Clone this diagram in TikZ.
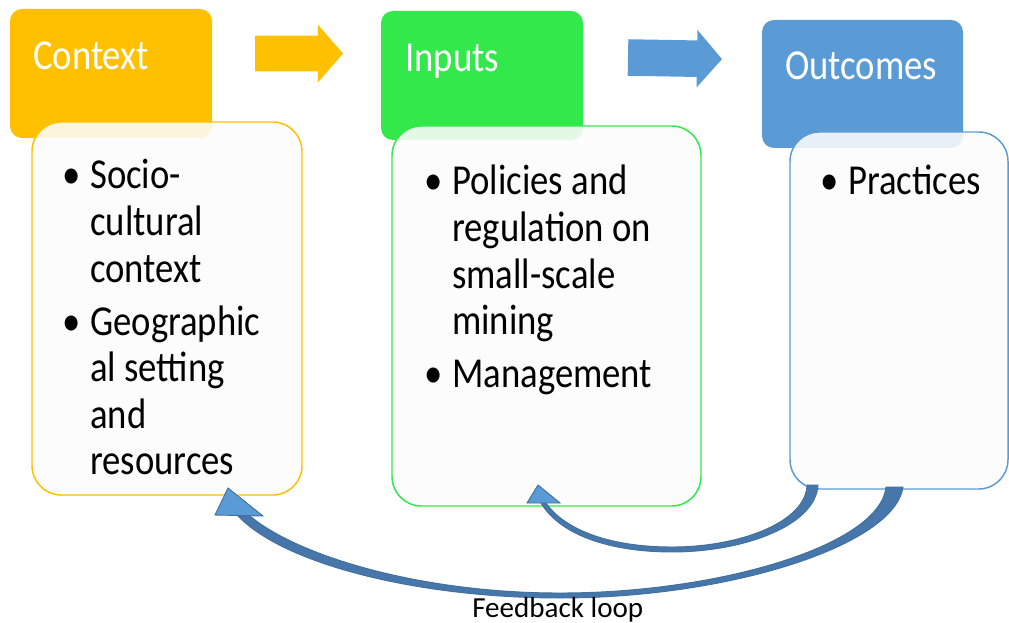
\documentclass[tikz,border=0pt]{standalone}
\usepackage{fontspec}
\setmainfont{Carlito}[FakeStretch=0.86]
\newfontfamily\loopfont{Carlito}
\usepackage{xcolor}
\usetikzlibrary{shapes.arrows}

\definecolor{ctxorange}{HTML}{FFC000}
\definecolor{inpgreen}{HTML}{33E84B}
\definecolor{outblue}{HTML}{5B9BD5}
\definecolor{loopblue}{HTML}{4777AA}
\definecolor{loopedge}{HTML}{41719C}

\tikzset{
  header/.style={fill=#1, rounded corners=9pt, inner sep=0pt, outer sep=0pt,
    anchor=north west, minimum width=151.5pt, minimum height=96.75pt},
  panel/.style={draw=#1, line width=1.1pt, fill=white!99!black, fill opacity=0.88,
    rounded corners=22pt, inner sep=0pt, outer sep=0pt, anchor=north west},
  title/.style={anchor=base west, inner sep=0pt, text=white,
    font=\fontsize{32}{35}\selectfont},
  items/.style={anchor=base west, inner sep=0pt,
    font=\fontsize{32}{34.9}\selectfont},
  flow/.style={single arrow, fill=#1, anchor=tail, inner xsep=0pt,
    outer sep=0pt, single arrow tip angle=98},
  loopband/.style={fill=loopblue, draw=loopedge, line width=0.7pt},
  loophead/.style={fill=outblue, draw=loopedge, line width=0.7pt, line join=miter},
}
\newcommand{\bul}{\makebox[21pt][l]{\textbullet}}

\begin{document}
\begin{tikzpicture}[x=0.75pt, y=-0.75pt]
    \useasboundingbox (0,0) rectangle (1009,623);

    % column heads
    \node[header=ctxorange] (ctxhead) at (10,9) {};
    \node[header=inpgreen] (inphead) at (381,11) {};
    \node[header=outblue, minimum width=150.75pt, minimum height=96pt] (outhead) at (762,20) {};

    % column panels
    \node[panel=ctxorange, minimum width=202.5pt, minimum height=279.75pt] (ctxbody) at (32,122) {};
    \node[panel=inpgreen, minimum width=231.75pt, minimum height=285pt] (inpbody) at (392,126) {};
    \node[panel=outblue, minimum width=163.5pt, minimum height=267.75pt] (outbody) at (790,132) {};

    \node[title] (ctxtitle) at (33,70) {Context};
    \node[title] (inptitle) at (405,72) {Inputs};
    \node[title] (outtitle) at (785,80) {Outcomes};

    \node[items] (ctxitems) at (62,189) {\begin{tabular}[t]{@{}l@{}l@{}}
        \bul & Socio-\\ & cultural\\ & context\\[5pt]
        \bul & Geographic\\ & al setting\\ & and\\ & resources
      \end{tabular}};
    \node[items] (inpitems) at (424,195) {\begin{tabular}[t]{@{}l@{}l@{}}
        \bul & Policies and\\ & regulation on\\ & small-scale\\ & mining\\[5pt]
        \bul & Management
      \end{tabular}};
    \node[items] (outitems) at (820,195) {\begin{tabular}[t]{@{}l@{}l@{}}
        \bul & Practices
      \end{tabular}};

    % arrows between the heads
    \node[flow=ctxorange, minimum height=66pt, inner ysep=13.125pt,
      single arrow head extend=8.25pt] (ctxarrow) at (255,53.5) {};
    \node[flow=outblue, minimum height=70.5pt, inner ysep=13.5pt,
      single arrow head extend=7.875pt, rotate=-1] (inparrow) at (628,57.5) {};

    % feedback loop
    \filldraw[loopband] (886,487) -- (903,487)
        .. controls (895,545) and (730,598) .. (560,598)
        .. controls (420,598) and (285,565) .. (238,516)
        -- (250,516)
        .. controls (298,556) and (420,593) .. (560,593)
        .. controls (720,593) and (880,545) .. (886,487) -- cycle;
    \filldraw[loophead] (215,515) -- (228,488) -- (263,516) -- cycle;

    \filldraw[loopband] (807,485) -- (818,485)
        .. controls (816,525) and (745,552) .. (672,552)
        .. controls (610,552) and (560,535) .. (541,503)
        -- (546,503)
        .. controls (565,530) and (610,547) .. (672,547)
        .. controls (740,547) and (806,522) .. (807,485) -- cycle;
    \filldraw[loophead] (527,503) -- (538,485) -- (560,503) -- cycle;

    \node[anchor=base west, inner sep=0pt, font=\loopfont\fontsize{21.8}{24}\selectfont]
      (looplabel) at (472,617) {Feedback loop};
\end{tikzpicture}
\end{document}
